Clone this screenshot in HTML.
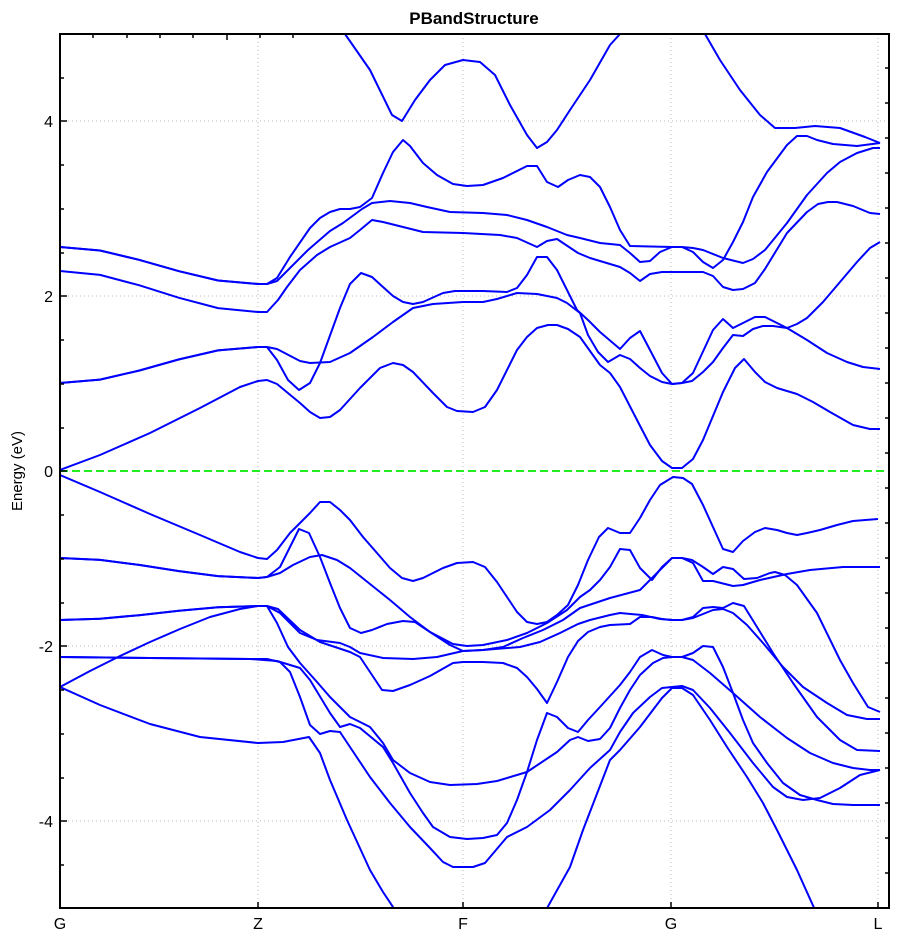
<!DOCTYPE html>
<html><head><meta charset="utf-8"><style>
body{margin:0;background:#fff;}
svg{display:block;font-family:"Liberation Sans",Arial,sans-serif;}
</style></head><body>
<svg width="904" height="939" viewBox="0 0 904 939" xmlns="http://www.w3.org/2000/svg">
<defs><clipPath id="c"><rect x="60" y="34" width="829" height="874"/></clipPath></defs>
<rect width="904" height="939" fill="#fff"/>
<text x="474" y="24" text-anchor="middle" font-size="17" font-weight="bold">PBandStructure</text>
<g stroke="#bbb" stroke-width="1" stroke-dasharray="1,3" fill="none">
<line x1="258" y1="34" x2="258" y2="908"/><line x1="463" y1="34" x2="463" y2="908"/><line x1="671" y1="34" x2="671" y2="908"/><line x1="878" y1="34" x2="878" y2="908"/>
<line x1="60" y1="121" x2="889" y2="121"/><line x1="60" y1="296" x2="889" y2="296"/><line x1="60" y1="646" x2="889" y2="646"/><line x1="60" y1="821" x2="889" y2="821"/>
</g>
<line x1="60" y1="471" x2="889" y2="471" stroke="#22ee22" stroke-width="2" stroke-dasharray="8,4"/>
<g clip-path="url(#c)" stroke="#0000ff" stroke-width="2" fill="none" stroke-linejoin="round">
<polyline points="60,470 100,455 150,433 200,408 240,387 258,381 267,380 277,384 300,403 310,412 320,418 330,417 340,410 360,388 380,368 393,363 403,365 413,372 433,393 447,407 457,411 473,412 485,407 497,390 517,350 527,337 537,328 548,325 557,325 568,329 580,337 600,365 610,373 620,387 637,420 650,445 662,461 672,468 682,468 693,459 703,440 723,392 735,368 744,359 755,372 765,382 777,388 797,394 813,402 830,412 853,425 870,429 880,429"/>
<polyline points="60,383 100,379.6 139,370.6 179,359.4 218,350.4 258,347 267,347 277,349 300,361 310,363 330,362 350,353 373,337 393,322 413,308 433,304 463,302 483,302 497,299 517,293 537,294 557,298 567,303 580,313 588,335 598,352 608,362 620,355 630,359 640,368 650,376 662,382 672,384 682,383 692,381 703,372 713,362 723,348 733,335 743,336 753,329 763,326 773,326 787,328 797,324 807,318 823,302 840,282 857,262 870,248 880,242"/>
<polyline points="60,383 100,379.6 139,370.6 179,359.4 218,350.4 258,347 267,347 277,360 288,380 299,390 310,383 320,363 340,308 350,284 361,273 372,277 383,287 393,296 403,302 413,304 423,302 443,293 455,291 483,291 507,292 517,288 527,275 537,257 547,257 557,270 567,290 577,310 588,320 600,332 620,349 630,338 640,331 650,350 662,373 672,384 682,383 693,373 713,330 723,319 733,328 743,323 755,317 765,317 773,321 787,328 807,340 827,353 847,362 863,367 880,369"/>
<polyline points="60,271 100,274.9 139,285.2 179,297.8 218,308.1 258,312 267,312 278,300 287,287 300,270 317,255 330,247 350,238 360,230 372,220 383,222 403,227 423,232 463,233 500,235 517,238 537,247 547,241 557,239 578,253 590,258 620,267 630,273 640,281 650,274 662,272 703,272 713,276 723,287 733,290 743,289 755,283 765,269 787,233 807,212 818,204 828,202 837,202 853,206 870,213 880,214"/>
<polyline points="60,247 100,250.5 139,259.8 179,271.2 218,280.5 258,284 267,284 277,281 290,268 308,250 330,231 343,223 362,209 372,203 390,201 410,203 427,207 450,212 483,213 507,215 527,220 547,227 567,235 580,238 600,243 620,245 630,253 640,262 650,261 660,252 672,247 682,247 693,252 703,262 713,268 723,260 733,242 743,222 753,197 767,172 787,145 797,136 807,136 817,140 833,144 857,146 880,143"/>
<polyline points="60,247 100,250.5 139,259.8 179,271.2 218,280.5 258,284 267,284 277,278 290,257 310,228 320,218 330,212 340,209 350,209 360,207 372,198 383,173 393,152 403,140 410,146 423,163 437,175 453,184 467,186 483,185 503,178 527,166 537,166 547,182 558,187 568,180 580,175 590,177 600,187 610,207 620,230 630,246 672,247 682,247 693,248 703,250 723,258 743,263 753,259 765,250 787,223 807,195 827,173 840,162 857,153 873,148 880,148"/>
<polyline points="345,34 370,70 392,115 402,121 415,100 430,80 445,65 463,60 480,62 495,75 510,105 527,135 537,148 547,142 557,130 570,110 590,80 610,45 620,34"/>
<polyline points="705,34 720,60 740,90 760,115 775,128 795,128 815,126 840,128 865,137 880,143"/>
<polyline points="60,475 100,492 150,514 200,535 240,552 258,558 267,559 277,550 290,533 300,523 310,513 320,502 330,502 340,510 350,520 363,537 377,553 390,568 402,578 413,581 423,578 443,568 457,563 473,562 485,567 497,582 517,612 527,622 537,624 547,622 557,615 568,605 578,585 588,560 599,537 608,528 620,533 630,533 640,518 650,500 660,485 673,477 683,478 692,484 703,505 713,527 723,549 733,552 743,541 755,532 765,528 777,530 787,533 797,535 807,533 820,530 837,525 853,521 878,519"/>
<polyline points="60,558 100,559.9 139,564.9 179,571.1 218,576.1 258,578 267,577 280,567 290,547 299,529 309,533 320,557 330,583 340,608 350,628 361,633 372,630 387,624 403,621 415,622 430,632 450,645 463,651 483,650 503,647 523,638 543,630 563,620 580,608 610,598 640,590 655,575 672,558 682,558 692,560 703,567 713,574 723,567 733,569 744,579 757,578 770,573 775,572 785,575 797,585 817,613 840,660 853,683 868,707 880,712"/>
<polyline points="60,558 100,559.9 139,564.9 179,571.1 218,576.1 258,578 267,577 280,573 293,565 310,557 322,555 337,560 350,568 370,584 390,600 410,617 430,632 453,644 467,646 483,645 507,640 527,633 547,623 567,610 580,597 590,590 600,580 610,567 620,549 630,550 640,568 652,580 662,567 672,558 682,558 693,563 703,581 713,581 733,586 743,585 760,580 787,574 810,570 843,567 880,567"/>
<polyline points="60,620 100,618.7 139,615.2 179,610.8 218,607.3 258,606 267,606 280,613 300,633 317,640 340,643 350,647 360,653 383,658 413,659 437,657 463,651 483,650 520,647 540,642 560,633 578,624 590,620 610,615 620,613 642,615 660,619 672,620 682,620 693,617 703,608 713,607 723,608 733,603 744,606 757,627 773,653 793,683 817,717 840,740 857,750 880,751"/>
<polyline points="60,620 100,618.7 139,615.2 179,610.8 218,607.3 258,606 267,606 278,609 300,630 320,642 350,652 360,657 370,672 382,690 393,691 410,685 430,676 453,663 463,662 483,662 503,663 517,668 527,677 537,689 547,703 557,682 568,657 578,641 588,632 600,627 610,625 630,624 640,617 652,617 662,619 672,620 682,620 693,618 713,610 723,609 733,613 747,625 763,643 783,667 803,687 827,703 847,715 867,719 880,719"/>
<polyline points="60,687 90,671 120,656 150,642 180,629 210,617 240,609 258,606 267,606 277,623 288,647 300,663 317,682 330,697 350,717 370,727 383,743 393,760 410,773 430,782 450,785 477,784 497,781 527,772 557,752 570,740 578,737 588,741 600,739 610,728 620,708 630,690 640,675 653,663 663,658 672,657 682,657 693,653 703,646 713,647 723,667 733,693 743,720 753,743 767,763 783,783 800,795 817,800 833,804 853,805 880,805"/>
<polyline points="60,657 150,658 250,659 277,661 300,668 310,680 330,713 340,727 350,724 360,728 383,747 393,763 410,793 423,813 433,827 450,837 467,839 483,838 497,835 507,823 517,800 527,772 537,740 547,713 557,717 568,728 578,732 588,720 600,707 620,685 630,672 640,657 652,650 663,655 672,657 682,657 693,660 710,673 733,693 760,717 787,738 810,753 833,763 853,768 870,770 880,770"/>
<polyline points="60,657 150,658 250,659 267,659 280,662 290,672 300,697 310,725 320,734 330,731 340,732 350,747 370,777 390,803 410,827 430,848 443,862 453,867 473,867 485,863 507,837 527,827 550,810 570,790 590,768 610,750 620,732 633,713 650,697 662,688 672,687 682,686 693,690 710,708 730,733 753,763 773,787 787,797 803,800 820,798 840,788 860,775 880,770"/>
<polyline points="60,687 100,705 150,724 200,737 258,743 283,742 309,737 320,753 330,780 347,820 370,870 383,892 395,910"/>
<polyline points="546,910 570,867 583,830 610,760 620,750 640,727 662,698 672,688 682,688 693,695 710,720 727,747 747,777 763,803 777,830 797,870 815,910"/>
</g>
<rect x="60" y="34" width="829" height="874" fill="none" stroke="#000" stroke-width="2"/>
<g stroke="#000" stroke-width="1.5">
<line x1="60" y1="121" x2="67" y2="121"/><line x1="60" y1="296" x2="67" y2="296"/><line x1="60" y1="471" x2="67" y2="471"/><line x1="60" y1="646" x2="67" y2="646"/><line x1="60" y1="821" x2="67" y2="821"/>
<line x1="60" y1="78" x2="64" y2="78"/><line x1="60" y1="165" x2="64" y2="165"/><line x1="60" y1="209" x2="64" y2="209"/><line x1="60" y1="253" x2="64" y2="253"/><line x1="60" y1="340" x2="64" y2="340"/><line x1="60" y1="384" x2="64" y2="384"/><line x1="60" y1="428" x2="64" y2="428"/><line x1="60" y1="515" x2="64" y2="515"/><line x1="60" y1="559" x2="64" y2="559"/><line x1="60" y1="603" x2="64" y2="603"/><line x1="60" y1="690" x2="64" y2="690"/><line x1="60" y1="734" x2="64" y2="734"/><line x1="60" y1="778" x2="64" y2="778"/><line x1="60" y1="865" x2="64" y2="865"/>
<line x1="258" y1="908" x2="258" y2="902"/><line x1="463" y1="908" x2="463" y2="902"/><line x1="671" y1="908" x2="671" y2="902"/><line x1="878" y1="908" x2="878" y2="902"/>
<line x1="93" y1="34" x2="93" y2="38"/><line x1="127" y1="34" x2="127" y2="38"/><line x1="160" y1="34" x2="160" y2="38"/><line x1="193" y1="34" x2="193" y2="38"/><line x1="227" y1="34" x2="227" y2="40"/><line x1="260" y1="34" x2="260" y2="38"/><line x1="293" y1="34" x2="293" y2="38"/>
</g>
<g stroke="#000" stroke-width="1.5">
<line x1="889" y1="68" x2="885" y2="68"/><line x1="889" y1="103" x2="885" y2="103"/><line x1="889" y1="138" x2="885" y2="138"/><line x1="889" y1="173" x2="885" y2="173"/><line x1="889" y1="208" x2="885" y2="208"/><line x1="889" y1="243" x2="885" y2="243"/><line x1="889" y1="278" x2="885" y2="278"/><line x1="889" y1="313" x2="885" y2="313"/><line x1="889" y1="348" x2="885" y2="348"/><line x1="889" y1="383" x2="885" y2="383"/><line x1="889" y1="418" x2="885" y2="418"/><line x1="889" y1="453" x2="885" y2="453"/><line x1="889" y1="488" x2="885" y2="488"/><line x1="889" y1="523" x2="885" y2="523"/><line x1="889" y1="558" x2="885" y2="558"/><line x1="889" y1="593" x2="885" y2="593"/><line x1="889" y1="628" x2="885" y2="628"/><line x1="889" y1="663" x2="885" y2="663"/><line x1="889" y1="698" x2="885" y2="698"/><line x1="889" y1="733" x2="885" y2="733"/><line x1="889" y1="768" x2="885" y2="768"/><line x1="889" y1="803" x2="885" y2="803"/><line x1="889" y1="838" x2="885" y2="838"/><line x1="889" y1="873" x2="885" y2="873"/>
</g>
<g font-size="16" fill="#000" text-anchor="end">
<text x="53" y="127">4</text><text x="53" y="302">2</text><text x="53" y="477">0</text><text x="53" y="652">-2</text><text x="53" y="827">-4</text>
</g>
<g font-size="16" fill="#000" text-anchor="middle">
<text x="60" y="929">G</text><text x="258" y="929">Z</text><text x="463" y="929">F</text><text x="671" y="929">G</text><text x="878" y="929">L</text>
</g>
<text transform="translate(22,471) rotate(-90)" font-size="15" text-anchor="middle">Energy (eV)</text>
</svg>
</body></html>
